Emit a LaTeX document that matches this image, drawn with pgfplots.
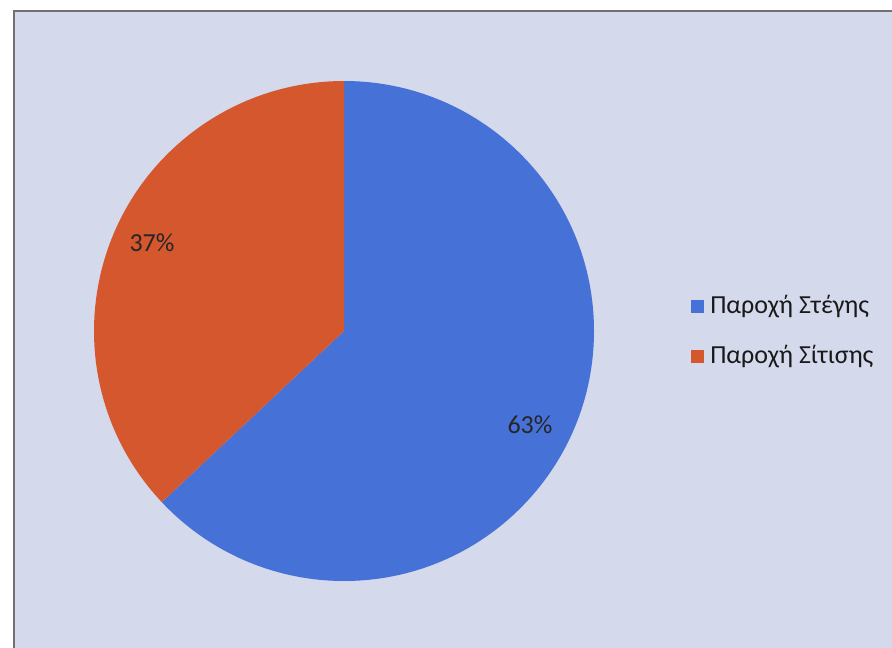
\documentclass[border=0pt]{standalone}
\usepackage{pgfplots}
\usepackage{pgfplotstable}
\pgfplotsset{compat=1.18}
\usepackage{fontspec}
\setmainfont{Carlito}
\definecolor{bgc}{HTML}{D4D9EC}
\definecolor{bluec}{HTML}{4672D8}
\definecolor{orangec}{HTML}{D5572E}
\definecolor{framec}{HTML}{707070}
\pgfplotstableread{
share
63
37
}\piedata
\begin{document}
\begin{tikzpicture}
\pgfplotstablegetelem{0}{share}\of\piedata \let\va\pgfplotsretval
\pgfplotstablegetelem{1}{share}\of\piedata \let\vb\pgfplotsretval
\pgfmathsetmacro{\angA}{90-3.6*\va}
\pgfmathsetmacro{\angB}{\angA-3.6*\vb}
\begin{axis}[
  width=669pt, height=485.25pt, scale only axis,
  xmin=0, xmax=892, ymin=0, ymax=647,
  hide axis, clip=true,
]
\fill[white] (axis cs:0,0) rectangle (axis cs:892,647);
\fill[bgc, draw=framec, line width=1.5pt] (axis cs:14,-10) rectangle (axis cs:900,636);
\fill[bluec] (axis cs:344,316) -- ++(90:187.5pt) arc[start angle=90, end angle=\angA, radius=187.5pt] -- cycle;
\fill[orangec] (axis cs:344,316) -- ++(\angA:187.5pt) arc[start angle=\angA, end angle=\angB, radius=187.5pt] -- cycle;
\node[font=\fontsize{19.5}{21}\selectfont, text=black!85] at (axis cs:152,404) {\vb\%};
\node[font=\fontsize{19.5}{21}\selectfont, text=black!85] at (axis cs:530,222) {\va\%};
\fill[bluec] (axis cs:691,334) rectangle (axis cs:704,347);
\fill[orangec] (axis cs:691,284) rectangle (axis cs:704,297);
\node[anchor=west, inner sep=0pt, font=\fontsize{19.5}{21}\selectfont, text=black!90] at (axis cs:710,340) {Παροχή Στέγης};
\node[anchor=west, inner sep=0pt, font=\fontsize{19.5}{21}\selectfont, text=black!90] at (axis cs:710,290) {Παροχή Σίτισης};
\end{axis}
\end{tikzpicture}
\end{document}
